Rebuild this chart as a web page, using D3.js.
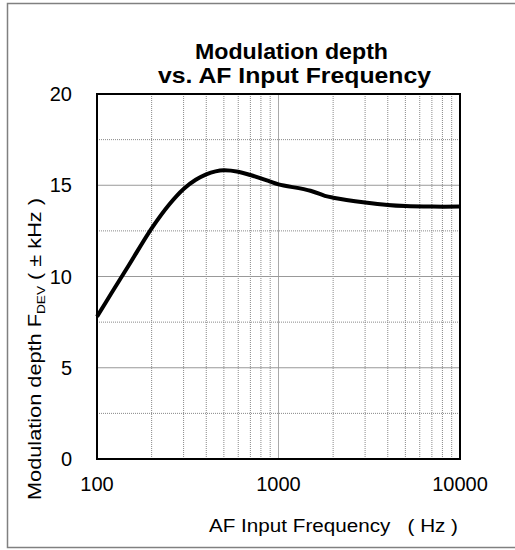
<!DOCTYPE html>
<html>
<head>
<meta charset="utf-8">
<script src="https://cdn.jsdelivr.net/npm/d3@7"></script>
<style>
  body { margin: 0; background: #fff; }
  text { font-family: Arial, "Liberation Sans", sans-serif; fill: #000; }
</style>
</head>
<body>
<svg id="chart"></svg>
<script>
const freqs = [100, 120, 150, 200, 250, 300, 350, 400, 450, 500, 600, 700, 800, 900, 1000, 1500, 1800, 2000, 3000, 4000, 5000, 7000, 10000];
const depth = [7.8, 9.08, 10.63, 12.64, 13.95, 14.8, 15.3, 15.6, 15.76, 15.82, 15.74, 15.56, 15.38, 15.2, 15.05, 14.7, 14.42, 14.32, 14.06, 13.92, 13.86, 13.83, 13.83];
const yTicks = [0, 5, 10, 15, 20];
const xTicks = [100, 1000, 10000];

const width = 515, height = 550;
const margin = { top: 94, right: 55, bottom: 91, left: 97 };

const svg = d3.select("#chart").attr("width", width).attr("height", height);

// outer frame
svg.append("rect")
   .attr("x", 7.5).attr("y", 3.5)
   .attr("width", 520).attr("height", 544)
   .attr("fill", "none").attr("stroke", "#808080").attr("stroke-width", 1.5);

const x = d3.scaleLog().domain([100, 10000]).range([margin.left, width - margin.right]);
const y = d3.scaleLinear().domain([0, 20]).range([height - margin.bottom, margin.top]);

const grid = svg.append("g");

// minor vertical gridlines (dotted)
const minorX = [];
[100, 1000].forEach(dec => { for (let k = 2; k <= 9; k++) minorX.push(dec * k); });
grid.selectAll(".vminor").data(minorX).enter().append("line")
    .attr("x1", d => x(d)).attr("x2", d => x(d))
    .attr("y1", y(0)).attr("y2", y(20))
    .attr("stroke", "#888").attr("stroke-width", 1).attr("stroke-dasharray", "1,1");
grid.selectAll(".vmajor").data([1000]).enter().append("line")
    .attr("x1", d => x(d)).attr("x2", d => x(d))
    .attr("y1", y(0)).attr("y2", y(20))
    .attr("stroke", "#aaa").attr("stroke-width", 1);

// horizontal gridlines
grid.selectAll(".hminor").data([2.5, 7.5, 12.5, 17.5]).enter().append("line")
    .attr("x1", x(100)).attr("x2", x(10000))
    .attr("y1", d => y(d)).attr("y2", d => y(d))
    .attr("stroke", "#888").attr("stroke-width", 1).attr("stroke-dasharray", "1,1");
grid.selectAll(".hmajor").data([5, 10, 15]).enter().append("line")
    .attr("x1", x(100)).attr("x2", x(10000))
    .attr("y1", d => y(d)).attr("y2", d => y(d))
    .attr("stroke", "#999").attr("stroke-width", 1);

// plot frame
svg.append("rect")
   .attr("x", x(100)).attr("y", y(20))
   .attr("width", x(10000) - x(100)).attr("height", y(0) - y(20))
   .attr("fill", "none").attr("stroke", "#000").attr("stroke-width", 2);

// curve
const line = d3.line().x((d, i) => x(freqs[i])).y(d => y(d)).curve(d3.curveCatmullRom);
svg.append("path")
   .datum(depth)
   .attr("d", line)
   .attr("fill", "none").attr("stroke", "#000").attr("stroke-width", 4)
   .attr("stroke-linejoin", "round");

// y tick labels
svg.selectAll(".ylab").data(yTicks).enter().append("text")
   .attr("x", 72).attr("y", d => y(d) + 7)
   .attr("text-anchor", "end").style("font-size", "20px")
   .text(d => d);

// x tick labels
svg.selectAll(".xlab").data(xTicks).enter().append("text")
   .attr("x", d => x(d)).attr("y", 491)
   .attr("text-anchor", "middle").style("font-size", "20px")
   .text(d => d);

// title
svg.append("text").attr("x", 195).attr("y", 59)
   .attr("textLength", 193).attr("lengthAdjust", "spacingAndGlyphs")
   .style("font-size", "22px").style("font-weight", "bold")
   .text("Modulation depth");
svg.append("text").attr("x", 158).attr("y", 83)
   .attr("textLength", 273).attr("lengthAdjust", "spacingAndGlyphs")
   .style("font-size", "22px").style("font-weight", "bold")
   .text("vs. AF Input Frequency");

// x axis title
svg.append("text")
   .attr("x", 209).attr("y", 532)
   .attr("textLength", 249).attr("lengthAdjust", "spacingAndGlyphs")
   .style("font-size", "17.5px").style("white-space", "pre")
   .text("AF Input Frequency   ( Hz )");

// y axis title
const yt = svg.append("text")
   .attr("transform", "translate(41, 500) rotate(-90)")
   .attr("textLength", 302).attr("lengthAdjust", "spacingAndGlyphs")
   .style("font-size", "17.5px").style("white-space", "pre");
yt.append("tspan").text("Modulation depth F");
yt.append("tspan").attr("dy", 4).style("font-size", "11px").text("DEV");
yt.append("tspan").attr("dy", -4).text(" ( \u00b1 kHz )");
</script>
</body>
</html>
